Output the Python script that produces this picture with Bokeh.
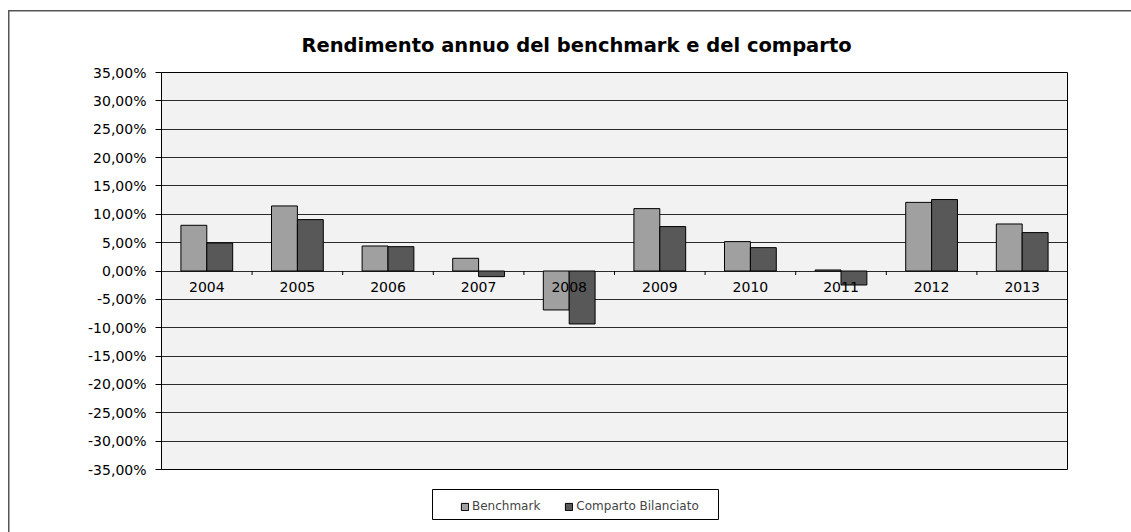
import numpy as np
from bokeh.plotting import figure
from bokeh.layouts import column
from bokeh.models import (ColumnDataSource, Range1d, FixedTicker, Legend,
                          LegendItem, BoxAnnotation)
from bokeh.core.properties import value
from bokeh.embed import file_html
from bokeh.resources import INLINE

years = ["2004", "2005", "2006", "2007", "2008", "2009", "2010", "2011", "2012", "2013"]
benchmark = [8.06, 11.47, 4.41, 2.24, -6.87, 11.00, 5.18, 0.18, 12.10, 8.29]
comparto = [4.94, 9.06, 4.29, -0.99, -9.34, 7.83, 4.12, -2.47, 12.60, 6.77]
y_ticks = [-35, -30, -25, -20, -15, -10, -5, 0, 5, 10, 15, 20, 25, 30, 35]
series_names = ["Benchmark", "Comparto Bilanciato"]
series_colors = ["#a0a0a0", "#585858"]

FONT = "DejaVu Sans"
n = len(years)
centers = np.arange(n) + 0.5
bar_w = 1 / 3.5

src = ColumnDataSource(dict(
    xb=centers - bar_w / 2, xc=centers + bar_w / 2, xm=centers,
    zero=[0] * n, bench=benchmark, comp=comparto, year=years,
))
bounds = ColumnDataSource(dict(x=list(centers[:-1] + 0.5), y=[0] * (n - 1)))

W = 1131
H1 = 480
p = figure(width=W, height=H1, output_backend="svg", toolbar_location=None,
           x_range=Range1d(0, n), y_range=Range1d(y_ticks[0], y_ticks[-1]),
           min_border_left=161, min_border_top=72, min_border_right=W - 1067,
           min_border_bottom=H1 - 469,
           background_fill_color="#f2f2f2", border_fill_alpha=0)
p.outline_line_color = "black"
p.outline_line_width = 1

r1 = p.vbar(x="xb", top="bench", bottom=0, width=bar_w, source=src,
            fill_color=series_colors[0], line_color="black", line_width=1)
r2 = p.vbar(x="xc", top="comp", bottom=0, width=bar_w, source=src,
            fill_color=series_colors[1], line_color="black", line_width=1)

# y axis
p.yaxis.ticker = FixedTicker(ticks=y_ticks)
p.yaxis.major_label_overrides = {v: (f"{v:.2f}%").replace(".", ",") for v in y_ticks}
p.yaxis.major_label_text_font = FONT
p.yaxis.major_label_text_font_size = "14px"
p.yaxis.major_label_text_color = "black"
p.yaxis.major_tick_out = 6
p.yaxis.major_tick_in = 0
p.yaxis.minor_tick_line_color = None
p.yaxis.axis_line_color = "black"
p.yaxis.major_tick_line_color = "black"
p.yaxis.major_label_standoff = 9

p.ygrid.ticker = FixedTicker(ticks=y_ticks)
p.ygrid.grid_line_color = "#2a2a2a"
p.ygrid.grid_line_width = 1
p.xgrid.grid_line_color = None

# category axis at the zero line
p.xaxis.visible = False
p.ray(x="x", y="y", length=4, length_units="screen", angle=-np.pi / 2,
      source=bounds, line_color="black", line_width=1)
p.text(x="xm", y="zero", text="year", source=src, text_align="center",
       text_baseline="top", y_offset=11, text_font=value(FONT),
       text_font_size="14px", text_color="black")

# title
p.title.text = "Rendimento annuo del benchmark e del comparto"
p.title.align = "left"
p.title.offset = 140
p.title.text_font = FONT
p.title.text_font_size = "19.5px"
p.title.text_font_style = "bold"
p.title.text_color = "black"
p.title.standoff = 31

# legend strip
H2 = 532 - H1
q = figure(width=W, height=H2, output_backend="svg", toolbar_location=None,
           x_range=Range1d(0, 1), y_range=Range1d(0, 1),
           min_border=0, border_fill_alpha=0, background_fill_alpha=0)
q.axis.visible = False
q.grid.visible = False
q.outline_line_color = None
proxy = ColumnDataSource(dict(x=[np.nan], top=[np.nan]))
l1 = q.vbar(x="x", top="top", width=0.1, source=proxy,
            fill_color=series_colors[0], line_color="black")
l2 = q.vbar(x="x", top="top", width=0.1, source=proxy,
            fill_color=series_colors[1], line_color="black")
q.add_layout(BoxAnnotation(left=432, right=718, top=489 - H1, bottom=519 - H1,
                           left_units="canvas", right_units="canvas",
                           top_units="canvas", bottom_units="canvas",
                           fill_alpha=0, line_color="black", line_alpha=1,
                           line_width=1))
legend = Legend(items=[LegendItem(label=series_names[0], renderers=[l1]),
                       LegendItem(label=series_names[1], renderers=[l2])],
                orientation="horizontal", location=(299, 19),
                label_text_font=FONT, label_text_font_size="12px",
                glyph_width=9, glyph_height=9, label_standoff=3, spacing=24,
                padding=4, margin=0, border_line_color=None,
                background_fill_alpha=0)
q.add_layout(legend, "center")

layout = column(p, q, spacing=0,
                styles={"box-shadow": "inset 8px 10px 0 0 #ffffff, inset 9.5px 11.5px 0 0 #555555"})

open("out.html", "w").write(file_html(layout, INLINE))
